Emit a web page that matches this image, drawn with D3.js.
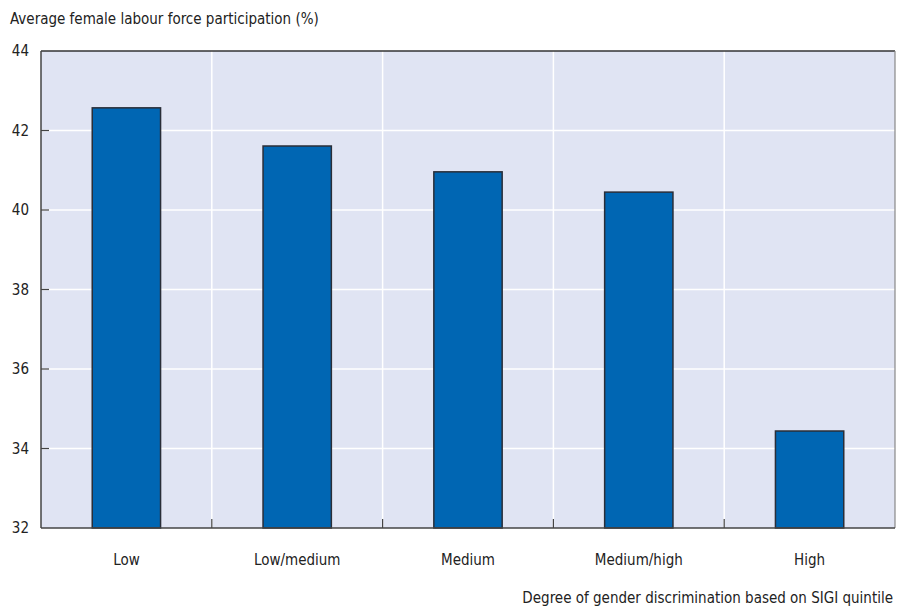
<!DOCTYPE html>
<html>
<head>
<meta charset="utf-8">
<script src="https://cdn.jsdelivr.net/npm/d3@7"></script>
<style>
  html, body { margin: 0; padding: 0; background: #fff; }
  text { font-family: "Liberation Sans Narrow", "Arial Narrow", "DejaVu Sans Condensed", sans-serif; fill: #222; }
</style>
</head>
<body>
<svg id="chart" width="897" height="609"></svg>
<script>
const categories = ["Low", "Low/medium", "Medium", "Medium/high", "High"];
const values = [42.57, 41.61, 40.96, 40.45, 34.44];
const yTicks = [32, 34, 36, 38, 40, 42, 44];
const yTitle = "Average female labour force participation (%)";
const xTitle = "Degree of gender discrimination based on SIGI quintile";

const svg = d3.select("#chart");
const m = { left: 41, right: 895, top: 51, bottom: 528 };

const x = d3.scaleBand().domain(categories).range([m.left, m.right]).paddingInner(0.6).paddingOuter(0.3);
const xb = d3.scaleBand().domain(categories).range([m.left, m.right]).padding(0);
const y = d3.scaleLinear().domain([32, 44]).range([m.bottom, m.top]);

// background
svg.append("rect").attr("x", m.left).attr("y", m.top)
  .attr("width", m.right - m.left).attr("height", m.bottom - m.top)
  .attr("fill", "#e0e4f3");

// horizontal gridlines
svg.append("g").selectAll("line").data(yTicks.filter(d => d > 32 && d < 44)).join("line")
  .attr("x1", m.left).attr("x2", m.right)
  .attr("y1", d => y(d)).attr("y2", d => y(d))
  .attr("stroke", "#ffffff").attr("stroke-width", 1.5);

// vertical gridlines at category boundaries
const bounds = categories.slice(1).map(c => xb(c));
svg.append("g").selectAll("line").data(bounds).join("line")
  .attr("x1", d => d).attr("x2", d => d)
  .attr("y1", m.top).attr("y2", m.bottom)
  .attr("stroke", "#ffffff").attr("stroke-width", 1.5);

// bars
svg.append("g").selectAll("rect").data(categories).join("rect")
  .attr("x", d => x(d)).attr("width", x.bandwidth())
  .attr("y", (d, i) => y(values[i]))
  .attr("height", (d, i) => y(32) - y(values[i]))
  .attr("fill", "#0066b3").attr("stroke", "#2a2e38").attr("stroke-width", 1.5);

// x tick marks (inward)
svg.append("g").selectAll("line").data(bounds).join("line")
  .attr("x1", d => d).attr("x2", d => d)
  .attr("y1", m.bottom).attr("y2", m.bottom - 9)
  .attr("stroke", "#444").attr("stroke-width", 1.2);

// y tick marks (inward)
svg.append("g").selectAll("line").data(yTicks.filter(d => d > 32 && d < 44)).join("line")
  .attr("x1", m.left).attr("x2", m.left + 8)
  .attr("y1", d => y(d)).attr("y2", d => y(d))
  .attr("stroke", "#444").attr("stroke-width", 1.2);

// frame
svg.append("line").attr("x1", m.left).attr("x2", m.right).attr("y1", m.top).attr("y2", m.top)
  .attr("stroke", "#333").attr("stroke-width", 1.5);
svg.append("line").attr("x1", m.right).attr("x2", m.right).attr("y1", m.top).attr("y2", m.bottom)
  .attr("stroke", "#888").attr("stroke-width", 1.2);
svg.append("line").attr("x1", m.left).attr("x2", m.left).attr("y1", m.top).attr("y2", m.bottom)
  .attr("stroke", "#444").attr("stroke-width", 1.5);
svg.append("line").attr("x1", m.left).attr("x2", m.right).attr("y1", m.bottom).attr("y2", m.bottom)
  .attr("stroke", "#444").attr("stroke-width", 1.5);

// y tick labels
svg.append("g").selectAll("text").data(yTicks).join("text")
  .attr("x", 29).attr("y", d => y(d) + 5)
  .attr("text-anchor", "end").attr("font-size", 15)
  .text(d => d);

// x labels
svg.append("g").selectAll("text").data(categories).join("text")
  .attr("x", d => xb(d) + xb.bandwidth() / 2).attr("y", 565)
  .attr("text-anchor", "middle").attr("font-size", 15)
  .text(d => d);

// titles
svg.append("text").attr("x", 10).attr("y", 24).attr("font-size", 15).text(yTitle);
svg.append("text").attr("x", 893).attr("y", 603).attr("text-anchor", "end").attr("font-size", 15).text(xTitle);
</script>
</body>
</html>
